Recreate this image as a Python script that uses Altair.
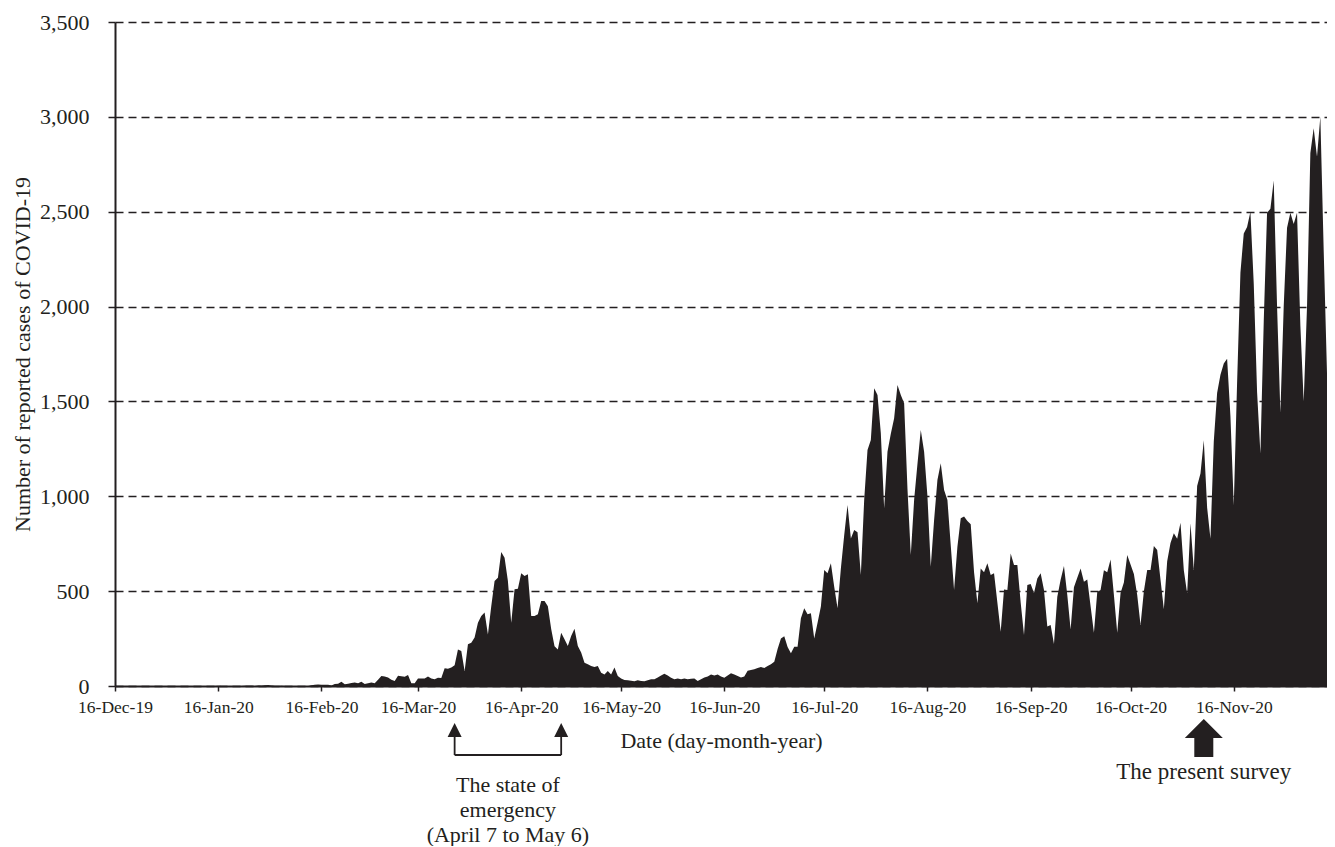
import altair as alt
import pandas as pd

# ---- daily reported COVID-19 cases, one value per day ----
dec19 = [0, 0, 0, 0, 0, 0, 0, 0, 0, 0, 0, 0, 0, 0, 0, 0]  # 16-31 Dec 2019
jan20 = [0, 0, 0, 0, 0, 0, 0, 0, 0, 0, 0, 0, 0, 0, 0,
         1, 0, 0, 0, 0, 0, 0, 0, 1, 1, 1, 0, 2, 1, 4, 5]
feb20 = [3, 0, 0, 1, 0, 0, 0, 0, 0, 0, 0, 0, 4, 7, 8, 6, 7, 7, 3, 10,
         12, 22, 9, 12, 16, 18, 15, 23, 10]
mar20 = [14, 19, 15, 33, 53, 50, 45, 33, 26, 54, 52, 49, 58, 14, 15, 40,
         40, 40, 50, 40, 35, 43, 42, 93, 91, 97, 110, 193, 184, 79, 220]
apr20 = [228, 255, 334, 369, 387, 272, 420, 553, 571, 706, 676, 553, 334,
         510, 513, 594, 580, 589, 369, 369, 378, 448, 448, 420, 300, 210,
         193, 281, 246, 211]
may20 = [264, 302, 211, 176, 123, 115, 105, 100, 105, 70, 61, 79, 60, 97,
         53, 40, 32, 30, 28, 25, 30, 27, 25, 30, 35, 35, 45, 55, 65, 55, 44]
jun20 = [35, 40, 35, 40, 35, 38, 40, 26, 35, 45, 50, 61, 55, 61, 50, 44,
         55, 67, 61, 53, 45, 50, 80, 84, 88, 95, 100, 95, 105, 115]
jul20 = [128, 195, 251, 262, 205, 172, 207, 207, 357, 410, 378, 383, 251,
         333, 419, 611, 594, 647, 523, 410, 620, 795, 954, 778, 822, 810,
         585, 980, 1244, 1297, 1569]
aug20 = [1534, 1332, 937, 1235, 1330, 1411, 1587, 1534, 1490, 1040, 690,
         980, 1170, 1349, 1235, 1000, 629, 875, 1086, 1174, 1033, 980, 740,
         506, 734, 884, 893, 870, 852, 600, 436]
sep20 = [620, 600, 647, 585, 594, 440, 286, 509, 506, 699, 638, 638, 440,
         269, 532, 538, 490, 567, 594, 506, 313, 322, 221, 470, 560, 632,
         480, 298, 520, 570]
oct20 = [620, 550, 562, 420, 281, 495, 506, 610, 600, 667, 480, 281, 490,
         545, 690, 640, 590, 480, 322, 500, 611, 611, 738, 717, 560, 404,
         658, 754, 805, 776, 860]
nov20 = [610, 488, 858, 612, 1054, 1120, 1295, 940, 776, 1290, 1545, 1640,
         1700, 1725, 1420, 952, 1600, 2180, 2385, 2420, 2500, 2120, 1550,
         1225, 1920, 2495, 2515, 2665, 2000, 1440]
dec20 = [2000, 2415, 2495, 2435, 2495, 1900, 1500, 2000, 2810, 2940, 2790,
         3000, 2300, 1650]  # 1-14 Dec 2020

first_day = "2019-12-16"
last_day = "2020-12-14"

tick_dates = ["2019-12-16", "2020-01-16", "2020-02-16", "2020-03-16",
              "2020-04-16", "2020-05-16", "2020-06-16", "2020-07-16",
              "2020-08-16", "2020-09-16", "2020-10-16", "2020-11-16"]
y_ticks = [0, 500, 1000, 1500, 2000, 2500, 3000, 3500]

# annotations
emergency_dates = ["2020-03-27", "2020-04-28"]
emergency_label_date = "2020-04-12"
emergency_label = "The state of\nemergency\n(April 7 to May 6)"
survey_date = "2020-11-07"
survey_label = "The present survey"

# -------------------------------------------------------------------------------
cases = (dec19 + jan20 + feb20 + mar20 + apr20 + may20 + jun20 + jul20 +
         aug20 + sep20 + oct20 + nov20 + dec20)
dates = pd.date_range(first_day, last_day, freq="D").strftime("%Y-%m-%d")
df = pd.DataFrame({"date": list(dates), "cases": cases})

FONT = "Liberation Serif"
INK = "#231f20"
W, H = 1212, 664


def dt(s):
    y, m, d = (int(p) for p in s.split("-"))
    return alt.DateTime(year=y, month=m, date=d, utc=True)


x_scale = alt.Scale(type="utc", domain=[dt(first_day), dt(last_day)], nice=False)
x_axis = alt.Axis(values=[dt(s) for s in tick_dates], format="%d-%b-%y",
                  labelFont=FONT, labelFontSize=17.5, labelColor=INK,
                  labelPadding=7, labelFlush=False, labelOverlap=False,
                  tickSize=5, tickWidth=1.5, tickColor=INK,
                  domainColor=INK, domainWidth=2, grid=False,
                  title="Date (day-month-year)", titleFont=FONT,
                  titleFontSize=22, titleFontWeight="normal",
                  titleColor=INK, titleX=W / 2, titleY=61,
                  titleBaseline="alphabetic", titleAlign="center")
x_enc = alt.X("date:T", scale=x_scale, axis=x_axis,
              title="Date (day-month-year)")

area = alt.Chart(df).mark_area(color=INK, interpolate="linear", opacity=1).encode(
    x=x_enc,
    y=alt.Y("cases:Q", scale=alt.Scale(domain=[0, 3500], nice=False),
            axis=alt.Axis(values=y_ticks, format=",.0f",
                          labelFont=FONT, labelFontSize=22, labelColor=INK,
                          labelPadding=19, tickSize=7, tickWidth=1.5,
                          tickColor=INK, domainColor=INK, domainWidth=2,
                          grid=True, gridDash=[8, 5], gridColor=INK,
                          gridWidth=1.5, gridOpacity=1,
                          title="Number of reported cases of COVID-19",
                          titleFont=FONT, titleFontSize=22,
                          titleFontWeight="normal", titleColor=INK,
                          titleAngle=-90, titleX=-86, titleY=H / 2,
                          titleBaseline="alphabetic", titleAlign="center")),
)

em_df = pd.DataFrame({"date": emergency_dates})
em_heads = alt.Chart(em_df).mark_point(
    shape="M0,-1L1,1L-1,1Z", size=196, filled=True, color=INK, opacity=1,
    strokeWidth=0).encode(x=x_enc, y=alt.value(708))
em_stems = alt.Chart(em_df).mark_rule(color=INK, strokeWidth=1.8).encode(
    x=x_enc, y=alt.value(714), y2=alt.value(733))
em_bar_df = pd.DataFrame({"date": [emergency_dates[0]], "end": [emergency_dates[1]]})
em_bar = alt.Chart(em_bar_df).mark_rule(color=INK, strokeWidth=1.8).encode(
    x=x_enc, x2="end:T", y=alt.value(733))
em_text = alt.Chart(pd.DataFrame({"date": [emergency_label_date],
                                  "label": [emergency_label]})).mark_text(
    align="center", baseline="alphabetic", font=FONT, fontSize=22,
    lineHeight=25, lineBreak="\n", color=INK).encode(
    x=x_enc, y=alt.value(770), text="label:N")

sv_df = pd.DataFrame({"date": [survey_date], "label": [survey_label]})
sv_arrow = alt.Chart(sv_df).mark_point(
    shape="M0,-1L1,0L0.5,0L0.5,1L-0.5,1L-0.5,0L-1,0Z", size=1444, filled=True,
    color=INK, opacity=1, strokeWidth=0).encode(x=x_enc, y=alt.value(716))
sv_text = alt.Chart(sv_df).mark_text(
    align="center", baseline="alphabetic", font=FONT, fontSize=23,
    color=INK).encode(x=x_enc, y=alt.value(757), text="label:N")

chart = alt.layer(area, em_stems, em_bar, em_heads, em_text, sv_arrow, sv_text).properties(
    width=W, height=H,
    autosize=alt.AutoSizeParams(type="none"),
    padding={"left": 107, "top": 14, "right": 0, "bottom": 160},
    background="white",
).configure_view(strokeWidth=0)

chart.save("out.html", embed_options={"renderer": "svg", "actions": False})
